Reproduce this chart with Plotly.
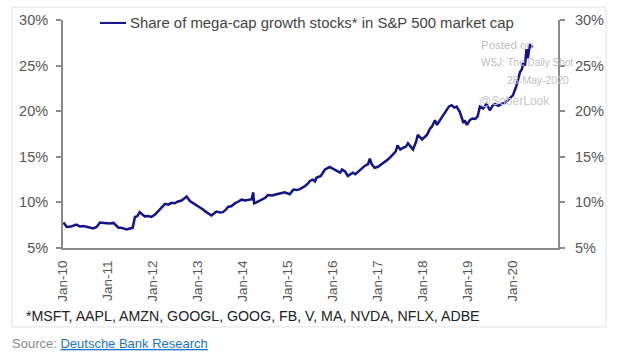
import plotly.graph_objects as go
import pandas as pd

# Readings of the line (share of S&P 500 market cap, %)
obs_dates = [
    "2010-01-05", "2010-02-01", "2010-03-05", "2010-04-20", "2010-05-20", "2010-06-15",
    "2010-07-20", "2010-09-01", "2010-10-01", "2010-10-28", "2010-12-01",
    "2011-01-15", "2011-02-15", "2011-03-25", "2011-04-25", "2011-05-30", "2011-06-28",
    "2011-07-20", "2011-08-08", "2011-08-28", "2011-09-15", "2011-10-05", "2011-10-27",
    "2011-11-25", "2011-12-20",
    "2012-01-20", "2012-02-14", "2012-03-15", "2012-04-08", "2012-05-05", "2012-05-30",
    "2012-06-25", "2012-07-22", "2012-08-20", "2012-09-15", "2012-10-01", "2012-10-27",
    "2012-11-25",
    "2013-01-01", "2013-01-15", "2013-02-14", "2013-03-10", "2013-04-20", "2013-05-12",
    "2013-05-30", "2013-07-01", "2013-07-22", "2013-08-15", "2013-09-01", "2013-10-01",
    "2013-10-27", "2013-11-25", "2013-12-20",
    "2014-01-20", "2014-02-14", "2014-03-12", "2014-03-25", "2014-04-01", "2014-04-20",
    "2014-05-30", "2014-07-01", "2014-07-22", "2014-08-25", "2014-10-01", "2014-11-05",
    "2014-12-05",
    "2015-01-15", "2015-02-14", "2015-03-15", "2015-04-08", "2015-05-20", "2015-06-15",
    "2015-06-28", "2015-07-22", "2015-08-08", "2015-08-20", "2015-09-25", "2015-10-27",
    "2015-12-05",
    "2016-01-15", "2016-02-05", "2016-02-28", "2016-03-15", "2016-04-08", "2016-05-01",
    "2016-06-10", "2016-07-01", "2016-08-08", "2016-09-15", "2016-10-12", "2016-10-27",
    "2016-11-10", "2016-12-05",
    "2017-01-01", "2017-02-01", "2017-02-25", "2017-03-22", "2017-05-01", "2017-05-25",
    "2017-06-08", "2017-07-01", "2017-07-22", "2017-08-15", "2017-09-01", "2017-09-20",
    "2017-10-12", "2017-11-05", "2017-11-20", "2017-12-25",
    "2018-01-15", "2018-02-02", "2018-02-28", "2018-03-14", "2018-04-08", "2018-04-25",
    "2018-05-18", "2018-06-14", "2018-07-12", "2018-07-30", "2018-08-22", "2018-09-12",
    "2018-10-01", "2018-10-27", "2018-11-14", "2018-11-25", "2018-12-05", "2018-12-24",
    "2019-01-15", "2019-02-05", "2019-02-28", "2019-03-20", "2019-04-08", "2019-05-04",
    "2019-06-01", "2019-06-28", "2019-07-20", "2019-08-08", "2019-09-05", "2019-10-01",
    "2019-10-27", "2019-11-20", "2019-12-12",
    "2020-01-01", "2020-01-30", "2020-02-28", "2020-03-14", "2020-03-25", "2020-04-08",
    "2020-04-20", "2020-05-01", "2020-05-18", "2020-06-08",
]
obs_share = [
    7.8, 7.3, 7.35, 7.56, 7.35, 7.4,
    7.3, 7.14, 7.3, 7.8, 7.75,
    7.68, 7.75, 7.25, 7.2, 7.03, 7.14,
    7.2, 8.4, 8.5, 8.93, 8.7, 8.47,
    8.5, 8.4,
    8.7, 9.1, 9.5, 9.84, 9.75, 9.95,
    9.9, 10.1, 10.2, 10.5, 10.65, 10.15,
    9.9,
    9.6, 9.5, 9.2, 8.93, 8.57, 8.8,
    9.0, 8.9, 8.93, 9.2, 9.5, 9.6,
    9.9, 10.1, 10.3,
    10.2, 10.3, 10.35, 11.1, 9.9, 10.0,
    10.3, 10.5, 10.8, 10.75, 10.9, 11.0,
    11.1,
    10.9, 11.4, 11.35, 11.45, 11.8, 12.1,
    12.36, 12.5, 12.3, 12.7, 12.9, 13.6,
    13.9,
    13.6, 13.5, 13.26, 13.6, 13.4, 12.9,
    13.26, 13.1, 13.6, 14.0, 14.2, 14.8,
    14.2, 13.8,
    13.9, 14.2, 14.4, 14.7, 15.25, 15.6,
    16.25, 15.8, 15.97, 16.1, 16.5, 16.2,
    15.8, 16.6, 17.4, 16.9,
    17.2, 17.4, 18.1, 18.3, 19.0, 18.5,
    19.0, 19.6, 20.1, 20.5, 20.66, 20.4,
    20.5, 19.9, 19.2, 18.7, 19.0, 18.5,
    19.0, 19.2, 19.15, 19.4, 20.5, 20.3,
    20.8, 20.1, 20.6, 20.8, 20.6, 20.8,
    20.9, 21.2, 21.4,
    21.74, 22.8, 24.3, 24.6, 25.35, 25.0,
    26.8, 25.8, 27.33, 27.0,
]

tick_dates = [f"{y}-01-01" for y in range(2010, 2021)]
tick_text = [f"Jan-{str(y)[2:]}" for y in range(2010, 2021)]
y_ticks = [5, 10, 15, 20, 25, 30]
y_text = [f"{v}%" for v in y_ticks]

series_name = "Share of mega-cap growth stocks* in S&P 500 market cap"
footnote = "*MSFT, AAPL, AMZN, GOOGL, GOOG, FB, V, MA, NVDA, NFLX, ADBE"

df = pd.DataFrame({"d": pd.to_datetime(obs_dates), "v": obs_share})

LINE = "#12128a"
GRAY = "#555555"
AX = "#8a8a8a"
FONT = "Liberation Sans, Arial, sans-serif"

fig = go.Figure()
fig.add_trace(go.Scatter(x=df["d"], y=df["v"], mode="lines",
                         line=dict(color=LINE, width=2.5), name=series_name,
                         showlegend=False, hoverinfo="skip"))
# invisible trace on right axis for mirrored ticks
fig.add_trace(go.Scatter(x=[df["d"].iloc[0]], y=[df["v"].iloc[0]], yaxis="y2",
                         mode="lines", line=dict(width=0), showlegend=False,
                         hoverinfo="skip"))

fig.update_layout(
    width=618, height=360,
    margin=dict(l=63, r=60, t=17, b=112),
    paper_bgcolor="white", plot_bgcolor="white",
    hovermode=False,
    font=dict(family=FONT, color=GRAY, size=13),
    xaxis=dict(range=["2010-01-01", "2021-01-01"], tickvals=tick_dates,
               ticktext=tick_text, tickangle=-90, showgrid=False,
               showline=True, linecolor=AX, linewidth=2, ticks="",
               ticklabelstandoff=5,
               tickfont=dict(size=13.5, color=GRAY), zeroline=False),
    yaxis=dict(range=[5, 30], tickvals=y_ticks, ticktext=y_text,
               showgrid=False, showline=True, linecolor=AX, linewidth=2,
               ticks="outside", ticklen=5, tickcolor=AX, tickwidth=1.5,
               ticklabelstandoff=5,
               tickfont=dict(size=14.5, color=GRAY), zeroline=False),
    yaxis2=dict(range=[5, 30], tickvals=y_ticks, ticktext=y_text,
                overlaying="y", side="right", showgrid=False, showline=True,
                linecolor=AX, linewidth=2, ticks="outside", ticklen=5,
                tickcolor=AX, tickwidth=1.5, ticklabelstandoff=7,
                tickfont=dict(size=14.5, color=GRAY), zeroline=False),
)

W, H = 495.0, 231.0
def px(x):
    return (x - 63) / W
def py(y):
    return (248 - y) / H

# outer frame
fig.add_shape(type="rect", xref="paper", yref="paper",
              x0=px(12), x1=px(606), y0=py(328), y1=py(4),
              line=dict(color="#e2e2e2", width=1), layer="below")
# legend line
fig.add_shape(type="line", xref="paper", yref="paper",
              x0=px(100), x1=px(126), y0=py(20), y1=py(20),
              line=dict(color=LINE, width=2))

ann = [
    dict(text=series_name, x=px(128), y=py(20), xanchor="left", yanchor="middle",
         font=dict(size=14.9, color="#444444")),
    dict(text=footnote, x=px(24), y=py(317), xanchor="left", yanchor="middle",
         font=dict(size=14.2, color="#222222")),
    dict(text="Source: <span style='color:#1a73c8'><u>Deutsche Bank Research</u></span>",
         x=px(10), y=py(345), xanchor="left", yanchor="middle",
         font=dict(size=13, color="#8a8a8a")),
    dict(text="Posted on", x=px(479), y=py(42), xanchor="left", yanchor="middle",
         font=dict(size=11.5, color="#c0c0c0")),
    dict(text="WSJ: The Daily Shot", x=px(479), y=py(60), xanchor="left", yanchor="middle",
         font=dict(size=10, color="#c0c0c0")),
    dict(text="28-May-2020", x=px(571), y=py(78), xanchor="right", yanchor="middle",
         font=dict(size=10.5, color="#c0c0c0")),
    dict(text="@SoberLook", x=px(477), y=py(99), xanchor="left", yanchor="middle",
         font=dict(size=12, color="#c8c8c8")),
]
for a in ann:
    fig.add_annotation(xref="paper", yref="paper", showarrow=False, **a)

fig.write_html("out.html", config={"displayModeBar": False},
               post_script="document.body.style.margin='0';")
